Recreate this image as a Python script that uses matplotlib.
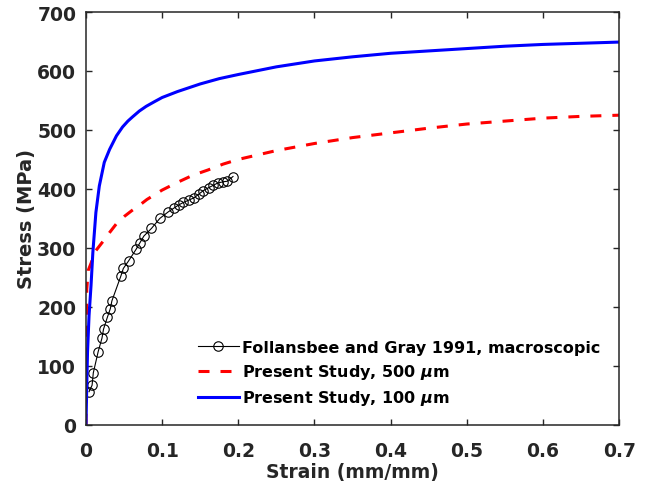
import numpy as np
import matplotlib.pyplot as plt

# Follansbee and Gray 1991 (circles)
exp_strain = [0.004, 0.008, 0.0096, 0.016, 0.021, 0.023, 0.028, 0.032, 0.034, 0.046,
              0.049, 0.056, 0.066, 0.071, 0.076, 0.086, 0.097, 0.108, 0.115, 0.122,
              0.128, 0.135, 0.142, 0.148, 0.154, 0.161, 0.167, 0.173, 0.180, 0.1855, 0.193]
exp_stress = [56, 67, 88, 124, 147, 162, 182, 197, 210, 253,
              265, 278, 298, 309, 320, 333, 350, 361, 367, 373,
              377, 381, 385, 391, 397, 402, 406, 410, 412, 413, 421]

# Present study, 500 um
s500_strain = [0, 0.0005, 0.001, 0.003, 0.007, 0.011, 0.017, 0.023, 0.031, 0.04, 0.05,
               0.06, 0.07, 0.08, 0.09, 0.10, 0.12, 0.14, 0.16, 0.18, 0.20, 0.25,
               0.30, 0.35, 0.40, 0.45, 0.50, 0.55, 0.60, 0.65, 0.70]
s500_stress = [0, 150, 230, 262, 275, 292, 302, 312, 326, 341, 353,
               363, 372, 382, 390, 398, 411, 423, 432, 442, 450, 465,
               477, 487, 495, 503, 510, 515, 520, 523, 525]

# Present study, 100 um
s100_strain = [0, 0.001, 0.002, 0.004, 0.0066, 0.009, 0.013, 0.0175, 0.024, 0.031,
               0.04, 0.048, 0.055, 0.061, 0.07, 0.079, 0.09, 0.10, 0.12, 0.15, 0.175,
               0.20, 0.25, 0.30, 0.35, 0.40, 0.45, 0.50, 0.55, 0.60, 0.65, 0.70]
s100_stress = [0, 66, 123, 185, 236, 292, 360, 405, 445, 467,
               490, 505, 515, 522, 532, 540, 548, 555, 565, 578, 587,
               594, 607, 617, 624, 630, 634, 638, 642, 645, 647, 649]

plt.rcParams['font.family'] = ['DejaVu Sans']
plt.rcParams['font.weight'] = 'bold'
plt.rcParams['mathtext.fontset'] = 'dejavusans'

fig = plt.figure(figsize=(6.49, 4.89), dpi=100)
ax = fig.add_axes([0.1325, 0.1294, 0.8215, 0.844])

ax.plot(exp_strain, exp_stress, '-o', color='k', lw=0.8, ms=6.8, mfc='none', mew=0.8,
        label='Follansbee and Gray 1991, macroscopic')
ax.plot(s500_strain, s500_stress, '--', color='#ff0000', lw=2.2, dashes=(3.6, 3.6),
        label=r'Present Study, 500 $\mu$m')
ax.plot(s100_strain, s100_stress, '-', color='#0000ff', lw=2.2,
        label=r'Present Study, 100 $\mu$m')

ax.set_xlim(0, 0.7)
ax.set_ylim(0, 700)
ax.set_xticks(np.arange(0, 0.71, 0.1))
ax.set_xticklabels(['0', '0.1', '0.2', '0.3', '0.4', '0.5', '0.6', '0.7'])
ax.set_yticks(np.arange(0, 701, 100))
ax.tick_params(direction='in', length=4, width=1, colors='#262626', labelsize=13.5,
               top=True, right=True)
ax.tick_params(axis='x', pad=12)
ax.tick_params(axis='y', pad=7)
for lab in ax.get_xticklabels() + ax.get_yticklabels():
    lab.set_fontweight('bold')
for sp in ax.spines.values():
    sp.set_linewidth(1.1)
    sp.set_color('#262626')

ax.set_xlabel('Strain (mm/mm)', fontsize=13.5, fontweight='bold', color='#262626', labelpad=1)
ax.set_ylabel('Stress (MPa)', fontsize=14, fontweight='bold', color='#262626', labelpad=1)

ax.legend(loc='lower right', bbox_to_anchor=(0.985, 0.015), frameon=False,
          prop={'weight': 'bold', 'size': 11.5}, handlelength=2.6, handletextpad=0.15,
          labelspacing=0.45, borderaxespad=0.3)

fig.savefig('out.png', dpi=100)
